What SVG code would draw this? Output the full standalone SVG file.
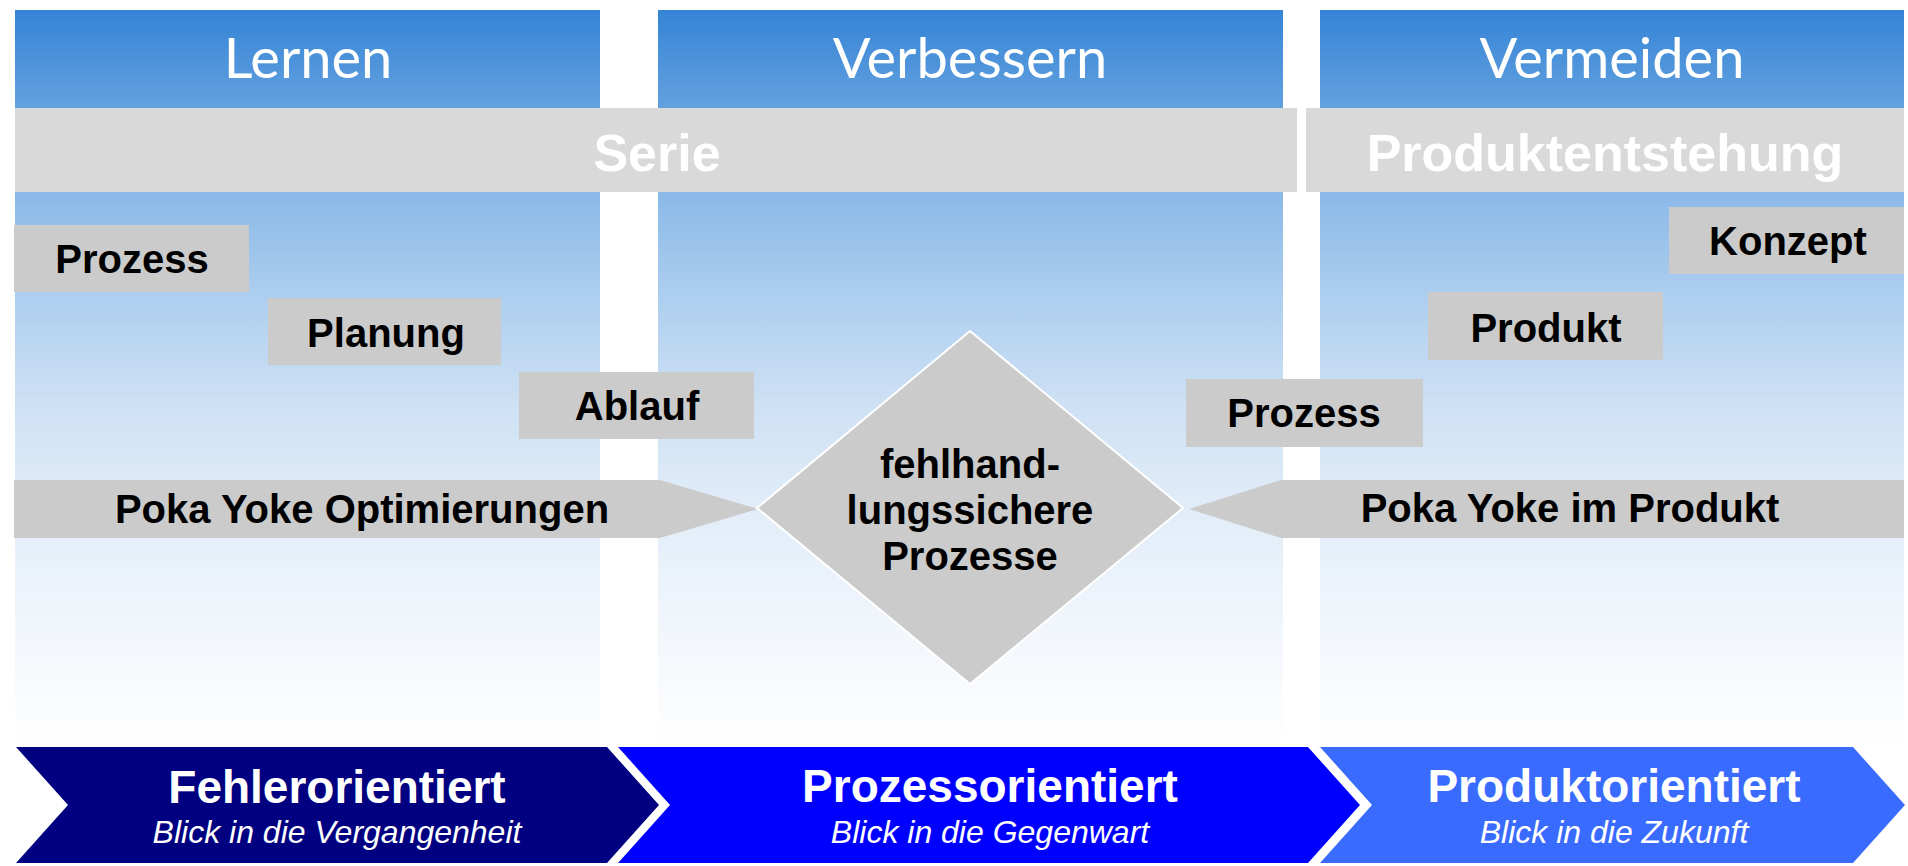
<svg xmlns="http://www.w3.org/2000/svg" width="1908" height="866" viewBox="0 0 1908 866">
<defs>
<linearGradient id="colGrad" gradientUnits="userSpaceOnUse" x1="0" y1="10" x2="0" y2="745">
<stop offset="0" stop-color="#3584d6"/>
<stop offset="0.133" stop-color="#63a1df"/>
<stop offset="0.248" stop-color="#8ab9e8"/>
<stop offset="0.395" stop-color="#aecfef"/>
<stop offset="0.531" stop-color="#cde0f4"/>
<stop offset="0.667" stop-color="#e0ecf8"/>
<stop offset="0.803" stop-color="#eef4fb"/>
<stop offset="1" stop-color="#ffffff"/>
</linearGradient>
<style>
.col{fill:url(#colGrad);}
.band{fill:#d9d9d9;}
.box{fill:#cbcbcb;}
.hdr{font-family:Lato,"Open Sans",sans-serif;font-size:56px;fill:#ffffff;text-anchor:middle;}
.bandtxt{font-family:"Liberation Sans",Arial,sans-serif;font-weight:bold;font-size:52px;fill:#ffffff;text-anchor:middle;}
.lbl{font-family:"Liberation Sans",Arial,sans-serif;font-weight:bold;font-size:40px;fill:#000000;text-anchor:middle;}
.chev1{fill:#000080;}
.chev2{fill:#0000ff;}
.chev3{fill:#3a6bff;}
.ctitle{font-family:"Liberation Sans",Arial,sans-serif;font-weight:bold;font-size:46px;fill:#ffffff;text-anchor:middle;}
.csub{font-family:"Liberation Sans",Arial,sans-serif;font-style:italic;font-size:32px;fill:#ffffff;text-anchor:middle;}
</style>
</defs>
<rect x="0" y="0" width="1908" height="866" fill="#ffffff"/>

<g id="col-lernen">
<rect class="col" x="15" y="10" width="585" height="735"/>
<text class="hdr" x="308" y="78">Lernen</text>
</g>
<g id="col-verbessern">
<rect class="col" x="658" y="10" width="625" height="735"/>
<text class="hdr" x="970" y="78">Verbessern</text>
</g>
<g id="col-vermeiden">
<rect class="col" x="1320" y="10" width="584" height="735"/>
<text class="hdr" x="1612" y="78">Vermeiden</text>
</g>

<g id="band-serie">
<rect class="band" x="15" y="108" width="1282" height="84"/>
<text class="bandtxt" x="657" y="171">Serie</text>
</g>
<g id="band-produktentstehung">
<rect class="band" x="1306" y="108" width="598" height="84"/>
<text class="bandtxt" x="1605" y="171">Produktentstehung</text>
</g>

<g id="box-prozess-left">
<rect class="box" x="14" y="225" width="235" height="67"/>
<text class="lbl" x="132" y="273">Prozess</text>
</g>
<g id="box-planung">
<rect class="box" x="268" y="298" width="233" height="67"/>
<text class="lbl" x="386" y="347">Planung</text>
</g>
<g id="box-ablauf">
<rect class="box" x="519" y="372" width="235" height="67"/>
<text class="lbl" x="637" y="420">Ablauf</text>
</g>

<g id="box-konzept">
<rect class="box" x="1669" y="207" width="235" height="67"/>
<text class="lbl" x="1788" y="255">Konzept</text>
</g>
<g id="box-produkt">
<rect class="box" x="1428" y="292" width="235" height="68"/>
<text class="lbl" x="1546" y="342">Produkt</text>
</g>
<g id="box-prozess-right">
<rect class="box" x="1186" y="379" width="237" height="68"/>
<text class="lbl" x="1304" y="427">Prozess</text>
</g>

<g id="connectors">
<g id="arrow-poka-left">
<polygon class="box" points="14,480 660,480 758,509 660,538 14,538"/>
<text class="lbl" x="362" y="523">Poka Yoke Optimierungen</text>
</g>
<g id="arrow-poka-right">
<polygon class="box" points="1904,480 1281,480 1189,509 1281,538 1904,538"/>
<text class="lbl" x="1570" y="522">Poka Yoke im Produkt</text>
</g>
</g>

<g id="diamond">
<polygon class="box" points="970,331 1183,508 970,684 757,508" stroke="#ffffff" stroke-width="2"/>
<text class="lbl" x="970" y="478">fehlhand-</text>
<text class="lbl" x="970" y="524">lungssichere</text>
<text class="lbl" x="970" y="570">Prozesse</text>
</g>

<g id="chevron-fehler">
<polygon class="chev1" points="16,747 607,747 659,805 607,863 16,863 68,805"/>
<text class="ctitle" x="337" y="803">Fehlerorientiert</text>
<text class="csub" x="337" y="843">Blick in die Vergangenheit</text>
</g>
<g id="chevron-prozess">
<polygon class="chev2" points="618,747 1308,747 1360,805 1308,863 618,863 670,805"/>
<text class="ctitle" x="990" y="802">Prozessorientiert</text>
<text class="csub" x="990" y="843">Blick in die Gegenwart</text>
</g>
<g id="chevron-produkt">
<polygon class="chev3" points="1320,747 1853,747 1905,805 1853,863 1320,863 1372,805"/>
<text class="ctitle" x="1614" y="802">Produktorientiert</text>
<text class="csub" x="1614" y="843">Blick in die Zukunft</text>
</g>
</svg>
